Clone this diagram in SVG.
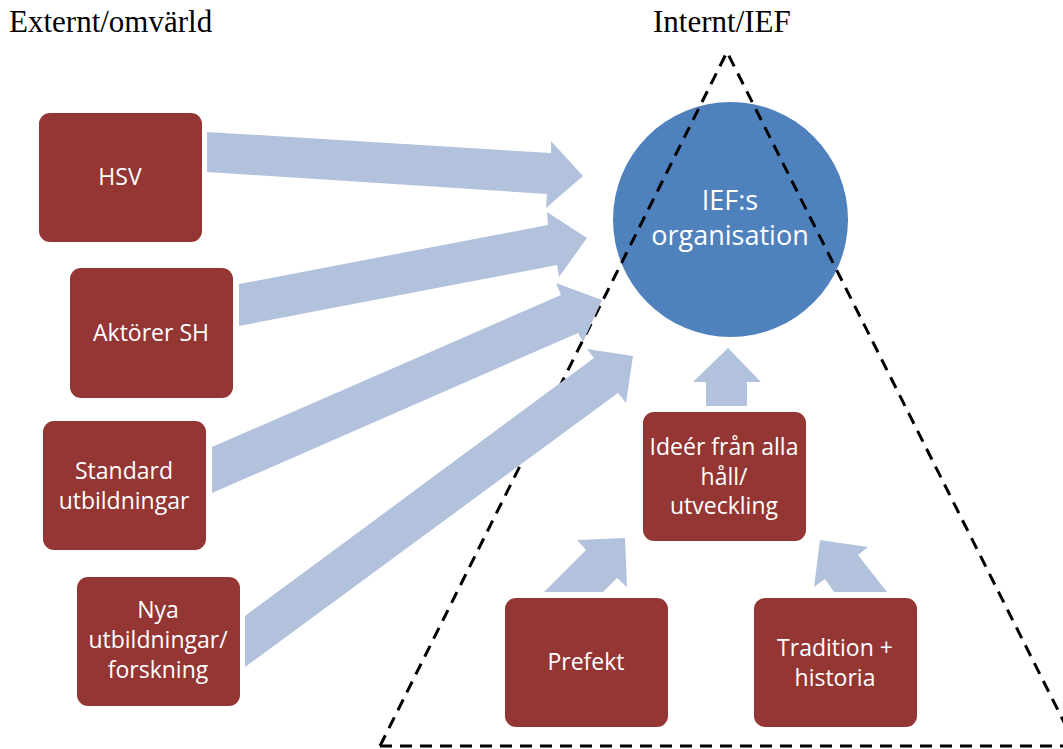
<svg xmlns="http://www.w3.org/2000/svg" width="1063" height="749" viewBox="0 0 1063 749">
<style>
.box{fill:#943634;}
.arr{fill:#B2C2DC;}
.t{font-family:"Open Sans","Liberation Sans",sans-serif;font-size:23px;fill:#ffffff;text-anchor:middle;}
.ct{font-family:"Open Sans","Liberation Sans",sans-serif;font-size:27px;fill:#ffffff;text-anchor:middle;}
.h{font-family:"Liberation Serif","Times New Roman",serif;font-size:31px;fill:#000000;}
.tri{fill:none;stroke:#000;stroke-width:3;stroke-dasharray:12 8;}
</style>
<rect width="1063" height="749" fill="#ffffff"/>
<text class="h" x="9" y="32">Externt/omvärld</text>
<text class="h" x="653" y="32">Internt/IEF</text>

<g id="circle-org">
<circle cx="730.5" cy="219.5" r="117.5" fill="#4F81BD"/>
<text class="ct" x="730" y="210">IEF:s</text>
<text class="ct" x="730" y="245">organisation</text>
</g>

<g id="triangle">
<polyline class="tri" points="380,746 727,52 1076,746"/>
<line class="tri" x1="380" y1="746" x2="1063" y2="746"/>
</g>

<g id="connectors">
<polygon class="arr" points="207,132 551,153 551,141 583,176 546,208 547,194 207,172"/>
<polygon class="arr" points="239,284 548,225 547,212 587,238 559,277 557,265 239,326"/>
<polygon class="arr" points="212,447 561,295 556,283 602,300 583,342 578,333 212,493"/>
<polygon class="arr" points="245,616 594,358 587,349 633,356 626,403 618,393 245,667"/>
<polygon class="arr" points="706,406 706,382 693,382 728,348 761,382 747,382 747,406"/>
<polygon class="arr" points="544,592 586,550 577,540 625,538 627,587 617,578 603,592"/>
<polygon class="arr" points="814,587 820,540 868,547 858,555 887,592 834,592 825,579"/>
</g>

<g id="node-hsv">
<rect class="box" x="39" y="113" width="163" height="129" rx="11"/>
<text class="t" x="120" y="185">HSV</text>
</g>
<g id="node-aktorer">
<rect class="box" x="70" y="268" width="163" height="130" rx="11"/>
<text class="t" x="151" y="341">Aktörer SH</text>
</g>
<g id="node-standard">
<rect class="box" x="43" y="421" width="163" height="129" rx="11"/>
<text class="t" x="124" y="479">Standard</text>
<text class="t" x="124" y="509">utbildningar</text>
</g>
<g id="node-nya">
<rect class="box" x="77" y="577" width="163" height="129" rx="11"/>
<text class="t" x="158" y="618">Nya</text>
<text class="t" x="158" y="648">utbildningar/</text>
<text class="t" x="158" y="678">forskning</text>
</g>
<g id="node-ideer">
<rect class="box" x="643" y="412" width="163" height="129" rx="11"/>
<text class="t" x="724" y="455">Ideér från alla</text>
<text class="t" x="724" y="485">håll/</text>
<text class="t" x="724" y="514">utveckling</text>
</g>
<g id="node-prefekt">
<rect class="box" x="505" y="598" width="163" height="129" rx="11"/>
<text class="t" x="586" y="670">Prefekt</text>
</g>
<g id="node-tradition">
<rect class="box" x="754" y="598" width="163" height="129" rx="11"/>
<text class="t" x="835" y="656">Tradition +</text>
<text class="t" x="835" y="686">historia</text>
</g>
</svg>
